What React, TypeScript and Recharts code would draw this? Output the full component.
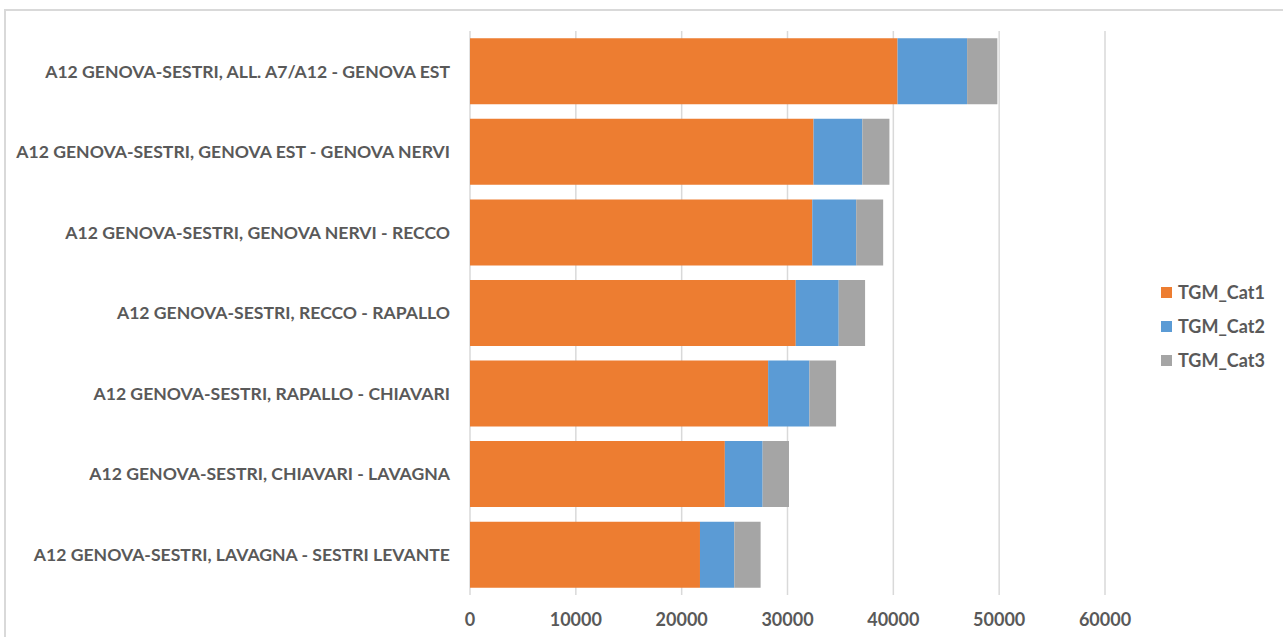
import React from "react";
import { BarChart, Bar, XAxis, YAxis, CartesianGrid, Legend } from "recharts";

const categories = [
  "A12 GENOVA-SESTRI, ALL. A7/A12 - GENOVA EST",
  "A12 GENOVA-SESTRI, GENOVA EST - GENOVA NERVI",
  "A12 GENOVA-SESTRI, GENOVA NERVI - RECCO",
  "A12 GENOVA-SESTRI, RECCO - RAPALLO",
  "A12 GENOVA-SESTRI, RAPALLO - CHIAVARI",
  "A12 GENOVA-SESTRI, CHIAVARI - LAVAGNA",
  "A12 GENOVA-SESTRI, LAVAGNA - SESTRI LEVANTE",
];
const cat1 = [40400, 32460, 32340, 30780, 28170, 24080, 21730];
const cat2 = [6570, 4610, 4150, 4060, 3900, 3570, 3240];
const cat3 = [2860, 2560, 2550, 2490, 2520, 2490, 2490];
const xTicks = [0, 10000, 20000, 30000, 40000, 50000, 60000];
const seriesNames = ["TGM_Cat1", "TGM_Cat2", "TGM_Cat3"];
const seriesColors = ["#ED7D31", "#5B9BD5", "#A5A5A5"];

const data = categories.map((name, i) => ({
  name,
  TGM_Cat1: cat1[i],
  TGM_Cat2: cat2[i],
  TGM_Cat3: cat3[i],
}));

const FONT = "Lato, 'Noto Sans', sans-serif";
const TEXT = "#595959";

const LegendContent = (props: any) => {
  const payload = props.payload || [];
  return (
    <div style={{ fontFamily: FONT, fontWeight: 700, fontSize: 18, color: TEXT }}>
      {payload.map((p: any) => (
        <div key={p.value} style={{ display: "flex", alignItems: "center", height: 34 }}>
          <span style={{ display: "inline-block", width: 11, height: 11, background: p.color, marginRight: 6 }} />
          <span>{p.value}</span>
        </div>
      ))}
    </div>
  );
};

export default function App() {
  return (
    <div style={{ position: "absolute", left: 0, top: 0, width: 1283, height: 637, overflow: "hidden", background: "#fff" }}>
      <div style={{ position: "absolute", left: 4, top: 9, width: 1400, height: 800, border: "2px solid #d9d9d9", boxSizing: "border-box" }} />
      <div style={{ position: "absolute", left: 0, top: 0 }}>
        <BarChart
          width={1283}
          height={637}
          data={data}
          layout="vertical"
          margin={{ top: 31, right: 178, bottom: 0, left: 0 }}
          barCategoryGap="9%"
        >
          <CartesianGrid horizontal={false} stroke="#d9d9d9" strokeWidth={1.5} />
          <XAxis
            type="number"
            domain={[0, 60000]}
            ticks={xTicks}
            axisLine={false}
            tickLine={false}
            tickSize={0}
            tickMargin={18}
            height={42}
            interval={0}
            tick={{ fill: TEXT, fontFamily: FONT, fontWeight: 700, fontSize: 18 }}
          />
          <YAxis
            type="category"
            dataKey="name"
            width={470}
            axisLine={false}
            tickLine={false}
            tickSize={0}
            tickMargin={20}
            interval={0}
            tick={{ fill: TEXT, fontFamily: FONT, fontWeight: 700, fontSize: 17.6 }}
          />
          <Legend
            layout="vertical"
            align="center"
            verticalAlign="middle"
            wrapperStyle={{ left: 1161, top: 275, width: 125 }}
            content={<LegendContent />}
          />
          {seriesNames.map((s, i) => (
            <Bar key={s} dataKey={s} stackId="a" fill={seriesColors[i]} isAnimationActive={false} />
          ))}
        </BarChart>
      </div>
    </div>
  );
}
